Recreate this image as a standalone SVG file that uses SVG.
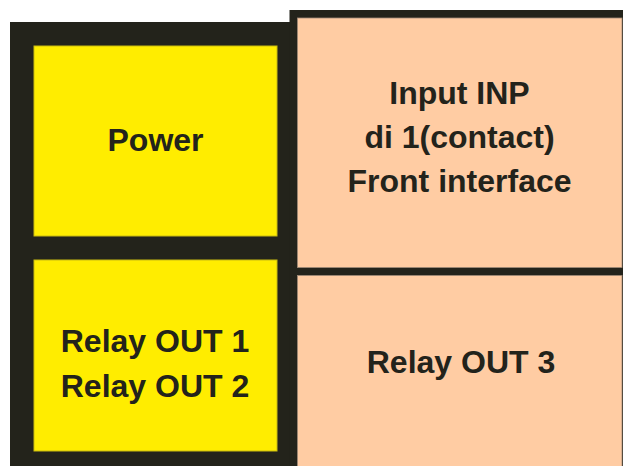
<svg xmlns="http://www.w3.org/2000/svg" width="623" height="466" viewBox="0 0 623 466">
  <style>
    .frame { fill: #23231b; }
    .yellow { fill: #ffed00; stroke: #c9bb10; stroke-width: 1; }
    .peach { fill: #ffcca3; stroke: #a08a78; stroke-width: 0.8; }
    .lbl { font-family: "Liberation Sans", Arial, sans-serif; font-weight: bold; font-size: 32px; fill: #23231b; text-anchor: middle; }
  </style>
  <rect width="623" height="466" fill="#ffffff"/>
  <g id="frame">
    <rect class="frame" x="10" y="22" width="288" height="444"/>
    <rect class="frame" x="289.5" y="10" width="333.5" height="456"/>
  </g>
  <g id="power">
    <rect class="yellow" x="34" y="46" width="243" height="190"/>
    <text class="lbl" x="155.5" y="151">Power</text>
  </g>
  <g id="relay12">
    <rect class="yellow" x="34" y="260" width="243" height="191"/>
    <text class="lbl" x="155" y="351.5">Relay OUT 1</text>
    <text class="lbl" x="155" y="397">Relay OUT 2</text>
  </g>
  <g id="input">
    <rect class="peach" x="297.5" y="18" width="324.5" height="249.5"/>
    <text class="lbl" x="459.5" y="103.5">Input INP</text>
    <text class="lbl" x="459.5" y="147.5">di 1(contact)</text>
    <text class="lbl" x="459.5" y="191.5">Front interface</text>
  </g>
  <g id="relay3">
    <rect class="peach" x="297.5" y="275.5" width="324.5" height="191"/>
    <text class="lbl" x="461" y="373">Relay OUT 3</text>
  </g>
  <g id="connectors"/>
</svg>
